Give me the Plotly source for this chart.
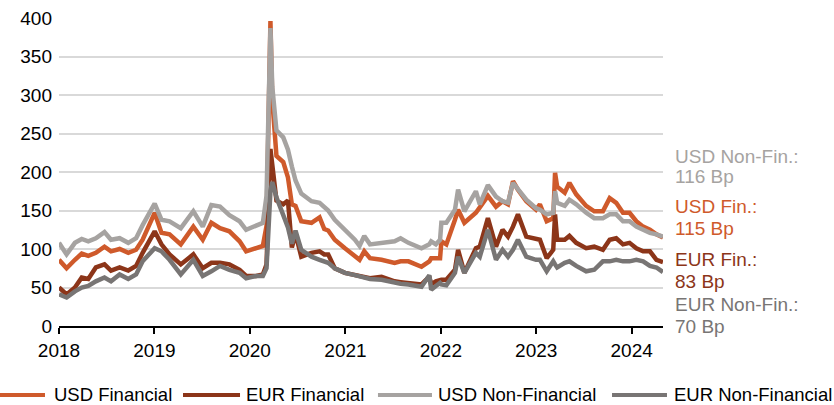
import plotly.graph_objects as go

# ---- data (spreads in bp) ----
dates = [
    "2018-01-01", "2018-01-30", "2018-03-03", "2018-03-29", "2018-04-23", "2018-05-22",
    "2018-06-24", "2018-07-19", "2018-08-21", "2018-09-23", "2018-10-23", "2018-11-17",
    "2019-01-02", "2019-01-28", "2019-02-28", "2019-04-12", "2019-05-30", "2019-07-05",
    "2019-08-07", "2019-09-09", "2019-10-15", "2019-11-23", "2019-12-18", "2020-01-26",
    "2020-02-20", "2020-03-05", "2020-03-20", "2020-03-27", "2020-04-12", "2020-05-08",
    "2020-05-26", "2020-06-10", "2020-06-24", "2020-07-16", "2020-08-24", "2020-09-24",
    "2020-10-12", "2020-10-27", "2020-11-21", "2020-12-30", "2021-02-06", "2021-02-24",
    "2021-03-14", "2021-04-05", "2021-05-19", "2021-07-08", "2021-07-31", "2021-08-30",
    "2021-10-19", "2021-11-18", "2021-11-25", "2021-12-13", "2021-12-29", "2022-01-03",
    "2022-01-22", "2022-02-24", "2022-03-08", "2022-04-01", "2022-05-15", "2022-05-30",
    "2022-06-30", "2022-07-31", "2022-08-25", "2022-09-15", "2022-10-04", "2022-10-23",
    "2022-11-24", "2022-12-31", "2023-01-15", "2023-02-10", "2023-03-07", "2023-03-14",
    "2023-03-22", "2023-04-20", "2023-05-08", "2023-06-03", "2023-07-11", "2023-08-11",
    "2023-09-13", "2023-10-09", "2023-11-03", "2023-11-29", "2023-12-24", "2024-01-19",
    "2024-02-14", "2024-03-11", "2024-04-05", "2024-04-30",
]
usd_fin = [
    86, 75, 86, 94, 91, 95, 103, 97, 100, 95, 99, 112,
    147, 121, 119, 106, 129, 112, 134, 127, 123, 110, 97, 101,
    104, 130, 396, 294, 221, 213, 193, 158, 156, 136, 134, 141,
    126, 124, 112, 101, 90, 86, 97, 88, 86, 82, 84, 84,
    77, 84, 88, 88, 88, 110, 106, 138, 151, 134, 147, 154,
    169, 155, 162, 158, 188, 177, 162, 151, 158, 136, 140, 199,
    181, 173, 186, 171, 156, 149, 149, 166, 160, 147, 147, 136,
    129, 125, 119, 115,
]
eur_fin = [
    50, 41, 50, 63, 61, 76, 80, 72, 76, 72, 78, 95,
    123, 106, 93, 80, 93, 75, 82, 82, 80, 73, 65, 65,
    67, 80, 230, 210, 163, 158, 163, 102, 120, 90, 95, 97,
    93, 93, 75, 69, 66, 64, 64, 62, 64, 58, 57, 56,
    54, 64, 54, 58, 60, 60, 60, 73, 99, 69, 101, 103,
    140, 103, 125, 116, 129, 145, 116, 114, 112, 88, 99, 145,
    112, 112, 117, 108, 101, 103, 99, 112, 114, 106, 108, 101,
    97, 97, 86, 83,
]
usd_nonfin = [
    108, 93, 108, 113, 110, 114, 122, 112, 114, 108, 114, 131,
    159, 138, 136, 127, 149, 129, 157, 155, 144, 136, 125, 131,
    134, 169, 387, 311, 254, 245, 229, 207, 189, 172, 162, 160,
    155, 150, 138, 125, 112, 104, 117, 106, 108, 110, 114, 108,
    101, 106, 110, 106, 112, 134, 134, 151, 177, 149, 175, 158,
    183, 168, 162, 160, 186, 177, 164, 153, 151, 145, 147, 175,
    160, 156, 164, 158, 147, 140, 140, 145, 145, 136, 136, 129,
    125, 121, 119, 116,
]
eur_nonfin = [
    41, 37, 45, 50, 52, 58, 63, 58, 67, 61, 67, 84,
    101, 97, 86, 67, 86, 65, 71, 78, 73, 69, 62, 65,
    65, 75, 175, 187, 167, 146, 128, 107, 124, 99, 90, 86,
    84, 82, 75, 69, 66, 64, 63, 61, 60, 56, 55, 54,
    51, 66, 47, 52, 56, 54, 53, 69, 90, 69, 95, 90,
    125, 86, 99, 90, 99, 112, 90, 86, 86, 71, 84, 80,
    76, 82, 84, 78, 71, 73, 84, 84, 86, 84, 84, 86,
    84, 78, 76, 70,
]

series_names = ["USD Financial", "EUR Financial", "USD Non-Financial", "EUR Non-Financial"]
short_names = ["USD Fin.:", "EUR Fin.:", "USD Non-Fin.:", "EUR Non-Fin.:"]
year_ticks = ["2018", "2019", "2020", "2021", "2022", "2023", "2024"]

series_values = [usd_fin, eur_fin, usd_nonfin, eur_nonfin]
colors = ["#CF5A2B", "#8C3519", "#A6A3A1", "#787574"]

FONT = "Liberation Sans, Arial, sans-serif"

fig = go.Figure()
for name, vals, col in zip(series_names, series_values, colors):
    fig.add_trace(go.Scatter(
        x=dates, y=vals, mode="lines", name=name,
        line=dict(color=col, width=4.5), showlegend=False,
    ))

# end-of-line labels (name line and value line placed separately, paper coords)
label_name_y = [0.3864, 0.2153, 0.5503, 0.0698]
label_val_y = [0.3159, 0.1429, 0.4838, -0.0023]
for short, vals, col, yn, yv in zip(short_names, series_values, colors, label_name_y, label_val_y):
    for txt, yy in ((short, yn), (f"{vals[-1]} Bp", yv)):
        fig.add_annotation(
            x=1.0166, xref="paper", y=yy, yref="paper", text=txt,
            showarrow=False, xanchor="left", yanchor="middle", align="left",
            font=dict(size=19, color=col, family=FONT),
        )

# legend row at the bottom (line key + label)
leg_line_x = [(-0.1142, -0.0232), (0.2053, 0.2997), (0.5281, 0.6175), (0.9156, 1.0066)]
leg_text_x = [-0.0116, 0.3063, 0.6242, 1.0149]
leg_y = -0.224
for name, col, (x0, x1), tx in zip(series_names, colors, leg_line_x, leg_text_x):
    fig.add_shape(type="line", xref="paper", yref="paper", x0=x0, x1=x1, y0=leg_y, y1=leg_y,
                  line=dict(color=col, width=4))
    fig.add_annotation(x=tx, xref="paper", y=leg_y, yref="paper", text=name,
                       showarrow=False, xanchor="left", yanchor="middle",
                       font=dict(size=18.5, color="#000000", family=FONT))

fig.update_layout(
    width=834, height=405,
    margin=dict(l=59, r=171, t=18, b=79, autoexpand=False),
    plot_bgcolor="white", paper_bgcolor="white",
    font=dict(family=FONT, size=19, color="#000000"),
    showlegend=False,
)
fig.update_xaxes(
    type="date", range=["2018-01-01", "2024-04-30"],
    tickvals=[f"{y}-01-01" for y in year_ticks], ticktext=year_ticks,
    ticks="outside", ticklen=6, tickwidth=1.5, tickcolor="#000000",
    showline=True, linecolor="#000000", linewidth=1.5,
    showgrid=False, zeroline=False,
)
fig.update_yaxes(
    range=[0, 400], dtick=50,
    showgrid=True, gridcolor="#D9D9D9", gridwidth=1.5,
    zeroline=False, showline=False, ticks="",
    ticklabelstandoff=6,
)

fig.write_html("out.html")
